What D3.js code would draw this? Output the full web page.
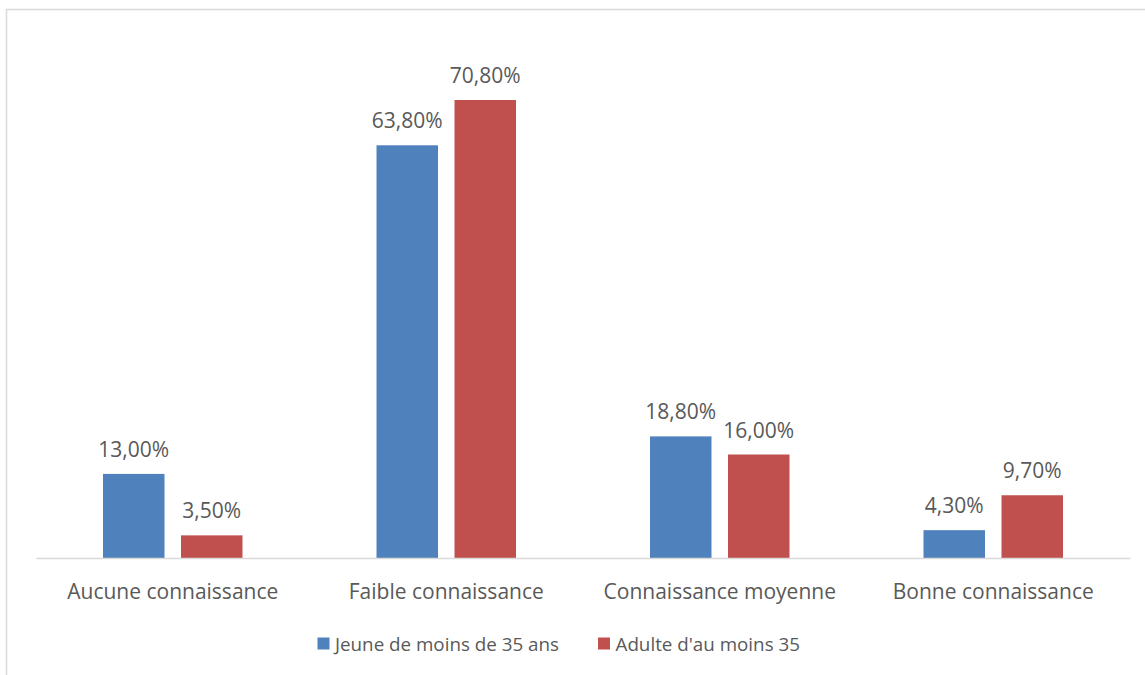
<!DOCTYPE html>
<html>
<head>
<meta charset="utf-8">
<script src="https://cdn.jsdelivr.net/npm/d3@7/dist/d3.min.js"></script>
<style>
  html, body { margin: 0; padding: 0; background: #fff; }
  svg { display: block; }
  text { font-family: "Open Sans", sans-serif; fill: #595959; }
</style>
</head>
<body>
<svg id="chart" width="1145" height="675"></svg>
<script>
// Niveau de connaissance par tranche d'âge (en %)
const categories = ["Aucune connaissance", "Faible connaissance", "Connaissance moyenne", "Bonne connaissance"];
const seriesNames = ["Jeune de moins de 35 ans", "Adulte d'au moins 35"];
const jeunes = [13.00, 63.80, 18.80, 4.30];
const adultes = [3.50, 70.80, 16.00, 9.70];
const colors = ["#4f81bd", "#c0504d"];

const svg = d3.select("#chart");
const W = 1145, H = 675;
const LABEL_FONT = "21px";
const LEGEND_FONT = "18.8px";

// cadre du graphique
svg.append("rect")
  .attr("x", 6.5).attr("y", 9.5)
  .attr("width", W + 10).attr("height", H + 10)
  .attr("fill", "none").attr("stroke", "#d9d9d9").attr("stroke-width", 1.5);

const plot = { left: 36, right: 1130, top: 40.5, bottom: 558 };

const x0 = d3.scaleBand().domain(categories).range([plot.left, plot.right]).paddingInner(0).paddingOuter(0);
const y = d3.scaleLinear().domain([0, 80]).range([plot.bottom, plot.top]);

const series = [jeunes, adultes];
const barW = 61.5, barGap = 16.5;

const groups = svg.append("g").selectAll("g")
  .data(categories)
  .join("g")
  .attr("transform", d => `translate(${x0(d) + x0.bandwidth() / 2},0)`);

series.forEach((vals, si) => {
  const off = si === 0 ? -(barGap / 2 + barW) : barGap / 2;
  groups.append("rect")
    .attr("x", off)
    .attr("y", (d, i) => y(vals[i]))
    .attr("width", barW)
    .attr("height", (d, i) => y(0) - y(vals[i]))
    .attr("fill", colors[si]);
  groups.append("text")
    .attr("x", off + barW / 2)
    .attr("y", (d, i) => y(vals[i]) - 17)
    .attr("text-anchor", "middle")
    .style("font-size", LABEL_FONT)
    .text((d, i) => vals[i].toFixed(2).replace(".", ",") + "%");
});

// axe horizontal
const xAxis = svg.append("g")
  .attr("transform", `translate(0,${plot.bottom})`)
  .call(d3.axisBottom(x0).tickSize(0).tickPadding(0));
xAxis.select(".domain").attr("stroke", "#d9d9d9").attr("stroke-width", 1.5);
xAxis.selectAll(".tick text")
  .attr("dy", null).attr("y", 40.5)
  .style("font-size", LABEL_FONT).style("font-family", "'Open Sans', sans-serif").attr("fill", "#595959");

// légende
const legend = svg.append("g");
const legendX = [317.5, 598];
seriesNames.forEach((name, i) => {
  const g = legend.append("g").attr("transform", `translate(${legendX[i]},637.5)`);
  g.append("rect").attr("width", 12).attr("height", 12).attr("fill", colors[i]);
  g.append("text").attr("x", 17.5).attr("y", 13).style("font-size", LEGEND_FONT).text(name);
});
</script>
</body>
</html>
